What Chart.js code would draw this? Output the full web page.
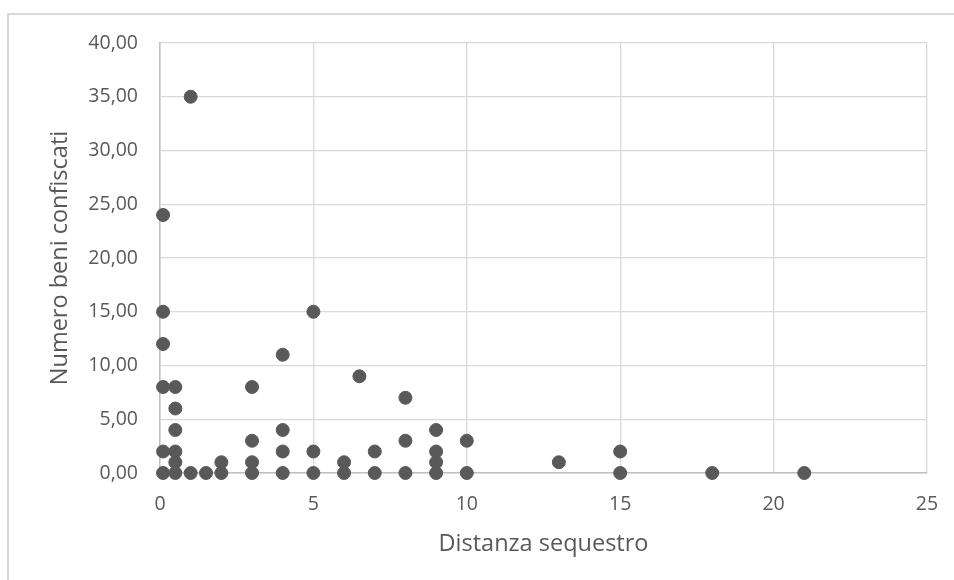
<!DOCTYPE html>
<html>
<head>
<meta charset="utf-8">
<script src="https://cdn.jsdelivr.net/npm/chart.js@4/dist/chart.umd.min.js"></script>
<style>
    body { margin: 0; background: #ffffff; }
    #wrap { position: relative; width: 954px; height: 580px; overflow: hidden; }
    #frame {
        position: absolute; left: 7px; top: 13px; width: 1000px; height: 700px;
        border-left: 2px solid #d9d9d9; border-top: 2px solid #d9d9d9;
    }
    #chart { position: absolute; left: 0; top: 0; }
</style>
</head>
<body>
<div id="wrap">
    <div id="frame"></div>
    <canvas id="chart" width="954" height="580"></canvas>
</div>
<script>
// distanza sequestro (x) / numero beni confiscati (y)
const distanza = [
    0.1, 0.1, 0.1, 0.1, 0.1, 0.1,
    0.5, 0.5, 0.5, 0.5, 0.5, 0.5,
    1, 1, 1.5, 2, 2,
    3, 3, 3, 3,
    4, 4, 4, 4,
    5, 5, 5,
    6, 6, 6.5,
    7, 7,
    8, 8, 8,
    9, 9, 9, 9,
    10, 10,
    13, 15, 15, 18, 21
]
const beni = [
    24, 15, 12, 8, 2, 0,
    8, 6, 4, 2, 1, 0,
    35, 0, 0, 1, 0,
    8, 3, 1, 0,
    11, 4, 2, 0,
    15, 2, 0,
    1, 0, 9,
    2, 0,
    7, 3, 0,
    4, 2, 1, 0,
    3, 0,
    1, 2, 0, 0, 0
]
const xTicks = [0, 5, 10, 15, 20, 25]
const yTicks = [0, 5, 10, 15, 20, 25, 30, 35, 40]

const points = distanza.map((x, i) => ({ x: x, y: beni[i] }))

Chart.defaults.font.family = "'Open Sans', sans-serif"
Chart.defaults.color = '#595959'

const ctx = document.getElementById('chart').getContext('2d')

new Chart(ctx, {
    type: 'scatter',
    data: {
        datasets: [{
            data: points,
            backgroundColor: '#595959',
            borderColor: '#595959',
            borderWidth: 1,
            pointRadius: 6.5,
            clip: false
        }]
    },
    options: {
        responsive: false,
        animation: false,
        layout: { padding: { left: 0, top: 43, right: 27, bottom: 0 } },
        plugins: { legend: { display: false }, tooltip: { enabled: false } },
        scales: {
            x: {
                type: 'linear',
                min: xTicks[0],
                max: xTicks[xTicks.length - 1],
                afterBuildTicks: (axis) => { axis.ticks = xTicks.map(v => ({ value: v })) },
                afterFit: (axis) => {
                    axis.height = 107
                    axis.paddingLeft = 0
                    axis.paddingRight = 0
                },
                grid: { color: '#d9d9d9', lineWidth: 1.3, drawTicks: false },
                border: { color: '#bfbfbf', width: 1.5 },
                ticks: { padding: 20, font: { size: 19.5 }, color: '#595959' },
                title: {
                    display: true,
                    text: 'Distanza sequestro',
                    font: { size: 23.5 },
                    color: '#595959',
                    padding: { top: 0, bottom: 22 }
                }
            },
            y: {
                type: 'linear',
                min: yTicks[0],
                max: yTicks[yTicks.length - 1],
                afterBuildTicks: (axis) => { axis.ticks = yTicks.map(v => ({ value: v })) },
                afterFit: (axis) => {
                    axis.width = 160
                    axis.paddingTop = 0
                    axis.paddingBottom = 0
                },
                grid: { color: '#d9d9d9', lineWidth: 1.3, drawTicks: false },
                border: { color: '#bfbfbf', width: 1.5 },
                ticks: {
                    padding: 22,
                    font: { size: 19.5 },
                    color: '#595959',
                    callback: (v) => Number(v).toFixed(2).replace('.', ',')
                },
                title: {
                    display: true,
                    text: 'Numero beni confiscati',
                    font: { size: 23.5 },
                    color: '#595959',
                    padding: { top: 46, bottom: 0 }
                }
            }
        }
    }
})
</script>
</body>
</html>
